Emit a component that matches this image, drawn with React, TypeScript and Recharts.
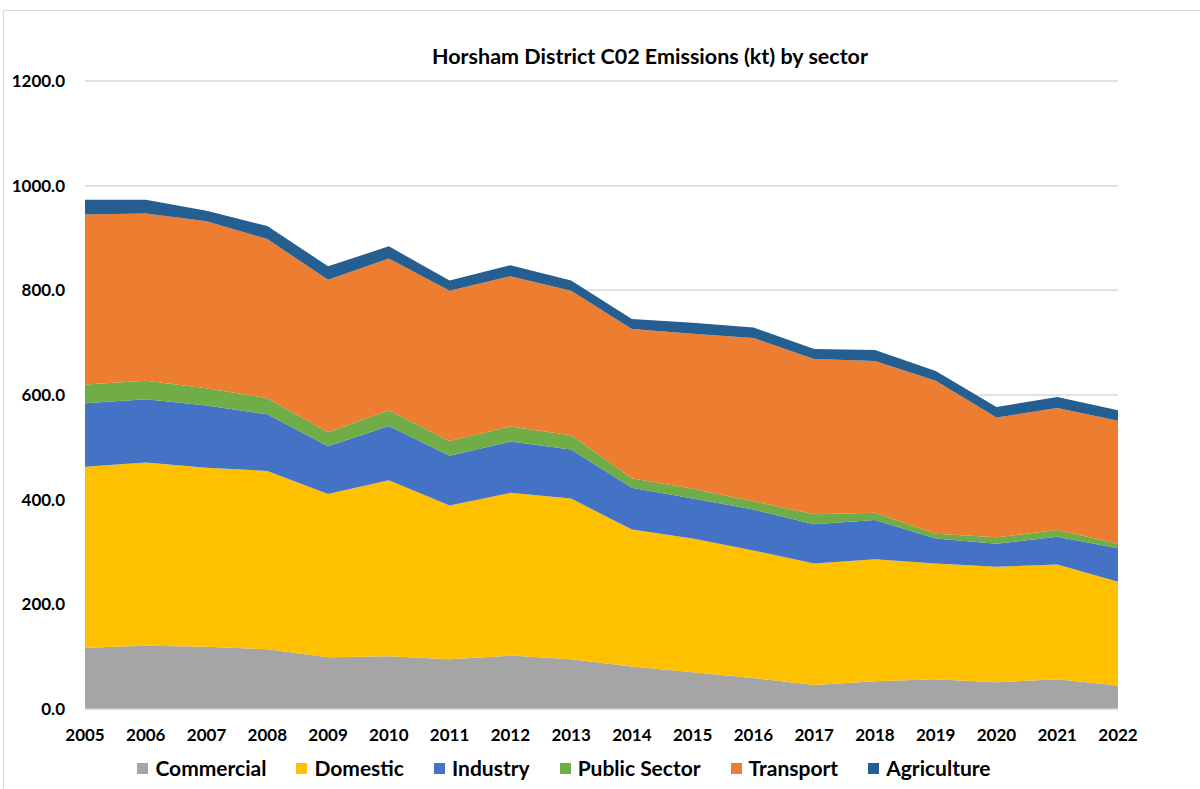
import React from "react";
import {
  AreaChart,
  Area,
  XAxis,
  YAxis,
  CartesianGrid,
  Legend,
} from "recharts";

// Horsham District CO2 emissions by sector, kt
const years = [
  "2005", "2006", "2007", "2008", "2009", "2010", "2011", "2012", "2013",
  "2014", "2015", "2016", "2017", "2018", "2019", "2020", "2021", "2022",
];
const commercial = [117, 121, 119, 114, 99, 101, 95, 102, 95, 81, 70, 59, 46, 53, 57, 51, 57, 45];
const domestic = [346, 350, 342, 341, 312, 336, 294, 311, 307, 262, 256, 244, 232, 233, 221, 221, 219, 198];
const industry = [121, 121, 119, 108, 91, 104, 95, 98, 94, 80, 76, 78, 75, 75, 48, 44, 53, 64];
const publicSector = [36, 35, 33, 31, 27, 30, 28, 29, 27, 18, 19, 16, 19, 14, 9, 12, 13, 9];
const transport = [325, 320, 319, 304, 291, 290, 287, 287, 276, 285, 296, 312, 297, 290, 292, 229, 233, 235];
const agriculture = [28, 26, 20, 25, 26, 23, 20, 21, 20, 19, 21, 20, 19, 21, 19, 20, 21, 20];
const yTicks = [0, 200, 400, 600, 800, 1000, 1200];

const sectors = [
  { key: "Commercial", values: commercial, color: "#a5a5a5" },
  { key: "Domestic", values: domestic, color: "#ffc000" },
  { key: "Industry", values: industry, color: "#4472c4" },
  { key: "Public Sector", values: publicSector, color: "#70ad47" },
  { key: "Transport", values: transport, color: "#ed7d31" },
  { key: "Agriculture", values: agriculture, color: "#255e91" },
];

const data = years.map((year, i) => {
  const row: Record<string, string | number> = { year };
  sectors.forEach((s) => {
    row[s.key] = s.values[i];
  });
  return row;
});

const FONT = "Lato, 'Open Sans', sans-serif";
const tickStyle = { fontFamily: FONT, fontSize: 17, fontWeight: 700, fill: "#000" };

function SectorLegend() {
  return (
    <div
      style={{
        display: "flex",
        justifyContent: "center",
        gap: 30,
        paddingLeft: 10,
        fontFamily: FONT,
        fontWeight: 700,
        fontSize: 21,
        lineHeight: "24px",
        color: "#000",
      }}
    >
      {sectors.map((s) => (
        <div key={s.key} style={{ display: "flex", alignItems: "center", gap: 7 }}>
          <span style={{ width: 11, height: 11, background: s.color, display: "inline-block" }} />
          <span>{s.key}</span>
        </div>
      ))}
    </div>
  );
}

export default function App() {
  return (
    <div style={{ position: "absolute", left: 0, top: 0, width: 1200, height: 789, background: "#fff" }}>
      <div
        style={{
          position: "absolute",
          left: 3,
          top: 10,
          right: 0,
          bottom: 0,
          borderTop: "1px solid #d9d9d9",
          borderLeft: "1px solid #d9d9d9",
        }}
      />
      <div
        style={{
          position: "absolute",
          left: 0,
          width: 1300,
          top: 43,
          textAlign: "center",
          fontFamily: FONT,
          fontWeight: 700,
          fontSize: 21.5,
          color: "#000",
        }}
      >
        Horsham District C02 Emissions (kt) by sector
      </div>
      <AreaChart
        width={1200}
        height={789}
        data={data}
        margin={{ top: 81, right: 82, bottom: 50, left: 0 }}
        style={{ position: "absolute", left: 0, top: 0 }}
      >
        <CartesianGrid vertical={false} stroke="#d9d9d9" strokeWidth={1.5} />
        <XAxis
          dataKey="year"
          tickLine={false}
          tickSize={0}
          tickMargin={20}
          axisLine={{ stroke: "#d9d9d9" }}
          tick={tickStyle}
          interval={0}
        />
        <YAxis
          width={85}
          domain={[0, 1200]}
          ticks={yTicks}
          tickLine={false}
          tickSize={0}
          tickMargin={20}
          axisLine={false}
          tick={tickStyle}
          tickFormatter={(v: number) => v.toFixed(1)}
        />
        {sectors.map((s) => (
          <Area
            key={s.key}
            type="linear"
            dataKey={s.key}
            stackId="co2"
            stroke="none"
            fill={s.color}
            fillOpacity={1}
            isAnimationActive={false}
          />
        ))}
        <Legend
          layout="horizontal"
          verticalAlign="middle"
          align="center"
          wrapperStyle={{ left: 0, top: 756, width: 1118 }}
          content={() => <SectorLegend />}
        />
      </AreaChart>
    </div>
  );
}
